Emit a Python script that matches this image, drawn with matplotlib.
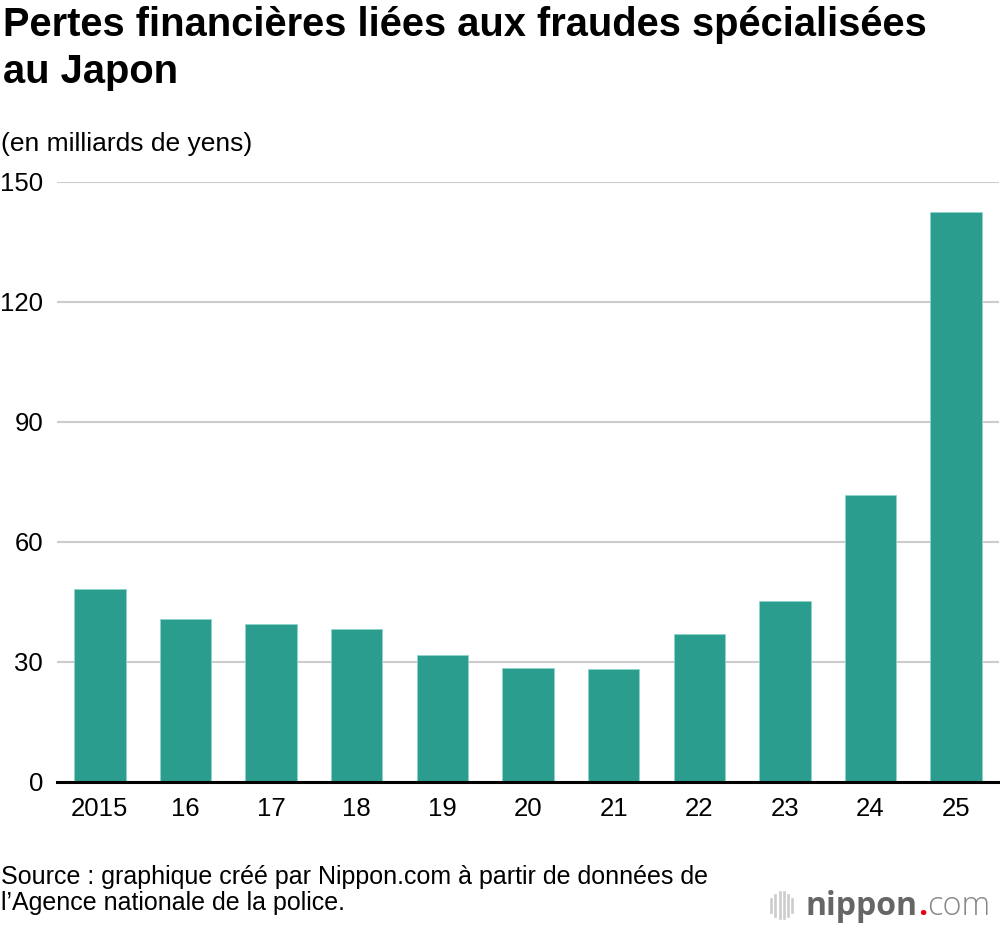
import numpy as np
import matplotlib.pyplot as plt
from matplotlib.lines import Line2D

plt.rcParams['font.family'] = ['Liberation Sans', 'DejaVu Sans']

years = ['2015', '16', '17', '18', '19', '20', '21', '22', '23', '24', '25']
losses = [48.2, 40.8, 39.4, 38.2, 31.6, 28.5, 28.2, 37.0, 45.2, 71.8, 142.4]
y_ticks = [0, 30, 60, 90, 120, 150]

title_lines = ['Pertes financières liées aux fraudes spécialisées', 'au Japon']
unit = '(en milliards de yens)'
source_lines = ['Source : graphique créé par Nippon.com à partir de données de',
                'l\u2019Agence nationale de la police.']

bar_color = '#2b9d8e'

fig = plt.figure(figsize=(10, 9.26), dpi=100)
ax = fig.add_axes([0.057, 0.1558, 0.942, 0.648])

x = np.arange(len(years))
ax.bar(x, losses, width=0.6, color=bar_color, edgecolor='#8fd4c9',
       linewidth=0.6, zorder=3)

ax.set_xlim(-0.5, len(years) - 0.5)
ax.set_ylim(0, 150)
ax.set_yticks(y_ticks)
ax.set_xticks(x)
ax.set_xticklabels(years)

# horizontal grid only
ax.yaxis.grid(True, color='#cccccc', linewidth=1.5, zorder=0)
ax.xaxis.grid(False)
for side in ['top', 'right', 'left']:
    ax.spines[side].set_visible(False)
ax.spines['bottom'].set_color('black')
ax.spines['bottom'].set_linewidth(2.2)
ax.spines['bottom'].set_zorder(4)

ax.tick_params(axis='y', length=0, pad=10, labelsize=18.5)
ax.tick_params(axis='x', length=0, pad=11, labelsize=18.5)

fig.text(0.003, 0.9611, title_lines[0], fontsize=28.7, fontweight='bold',
         va='baseline', ha='left')
fig.text(0.003, 0.9104, title_lines[1], fontsize=28.7, fontweight='bold',
         va='baseline', ha='left')
fig.text(0.001, 0.8369, unit, fontsize=19, va='baseline', ha='left')
fig.text(0.001, 0.0454, source_lines[0], fontsize=18, va='baseline', ha='left')
fig.text(0.001, 0.0176, source_lines[1], fontsize=18, va='baseline', ha='left')

# nippon.com logo
icon_x = [0.7713, 0.7753, 0.7797, 0.7843, 0.7883, 0.7923]
icon_h = [0.0137, 0.0223, 0.0281, 0.0281, 0.0223, 0.0137]
for xx, h in zip(icon_x, icon_h):
    fig.add_artist(Line2D([xx, xx], [0.0223 - h / 2, 0.0223 + h / 2],
                          color='#cccccc', linewidth=1.9))
base = 0.0119
logo = fig.text(0.806, base, 'nippon', fontsize=23, fontweight='bold',
                color='#666666', family='Open Sans', va='baseline')
fig.canvas.draw()
bb = logo.get_window_extent()
dot = fig.text(bb.x1 / fig.bbox.width, base, '.', fontsize=23, color='#e60012',
               family='Open Sans', fontweight='bold', va='baseline')
bb = dot.get_window_extent()
fig.text(bb.x1 / fig.bbox.width, base, 'com', fontsize=23.5, color='#888888',
         family='Open Sans', fontweight='light', va='baseline')

fig.savefig('out.png', dpi=100)
